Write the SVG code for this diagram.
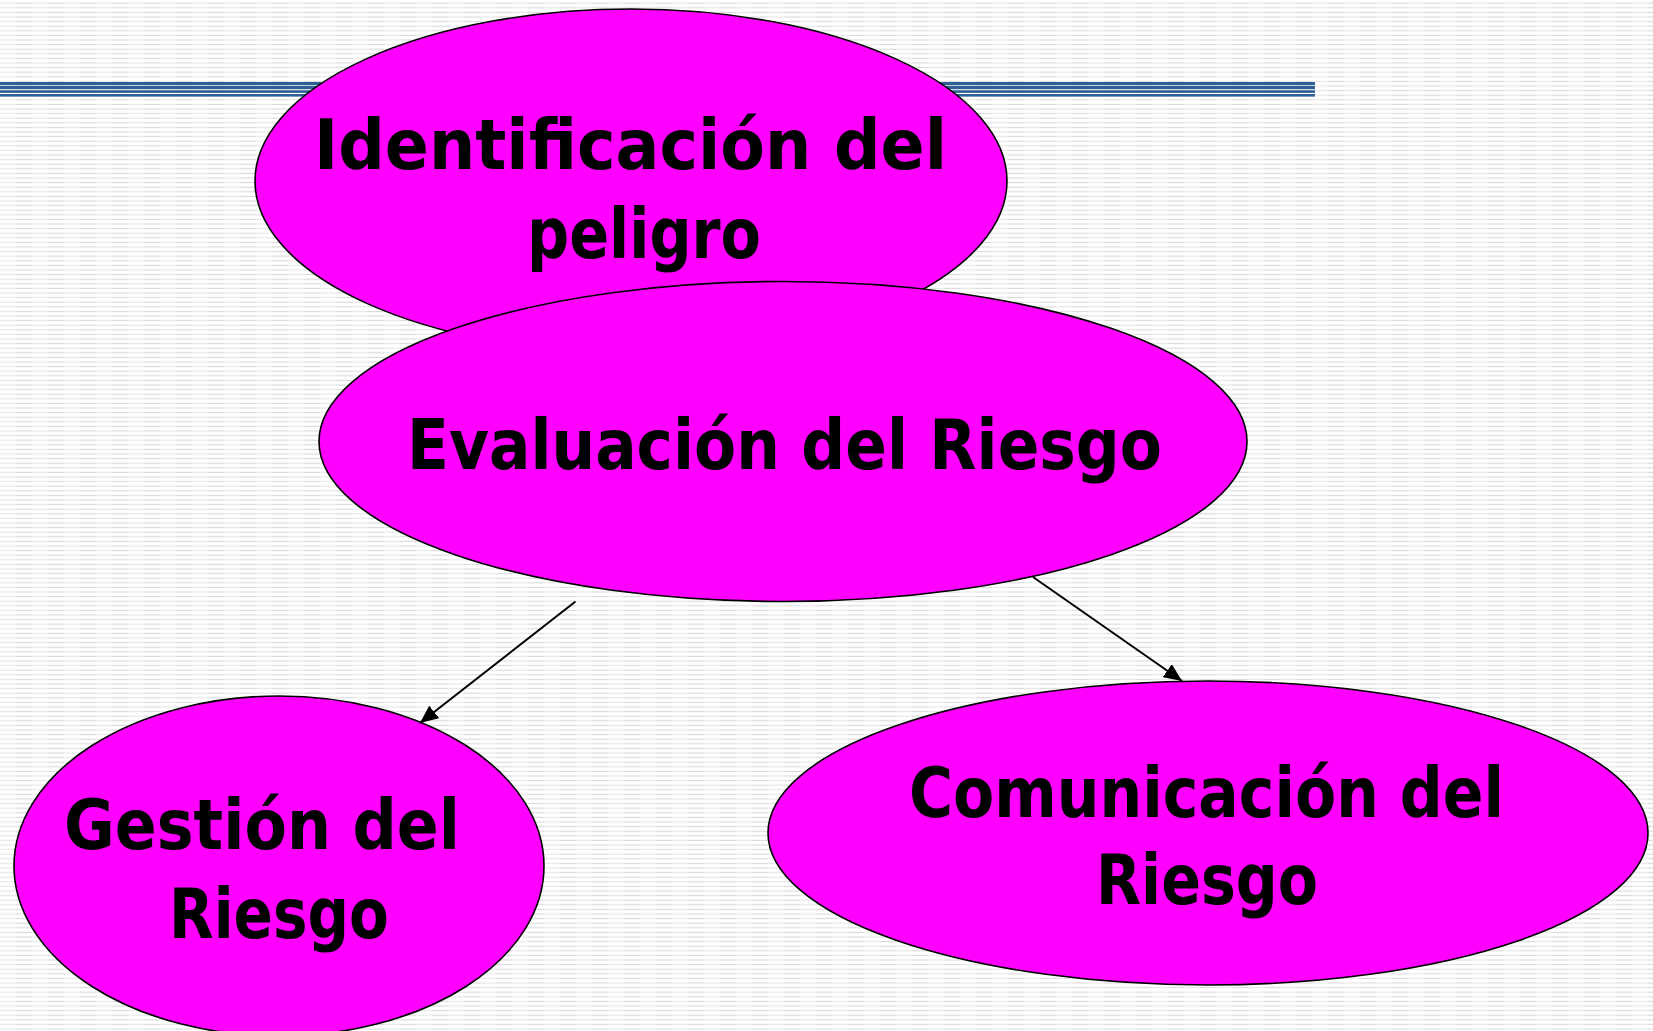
<svg xmlns="http://www.w3.org/2000/svg" width="1653" height="1031" viewBox="0 0 1653 1031">
<style>
.node{fill:#FF00FF;stroke:#000;stroke-width:1.6}
.lbl{font-family:"DejaVu Sans","Liberation Sans",sans-serif;font-weight:bold;font-size:70px;fill:#000;text-anchor:start}
.conn{stroke:#000;stroke-width:2;fill:none;marker-end:url(#ah)}
.bar{fill:#2e5f95}
</style>
<defs>
<pattern id="bg" x="0" y="0" width="32" height="4.6" patternUnits="userSpaceOnUse">
<rect x="0" y="0" width="32" height="4.6" fill="#fff"/>
<rect x="0" y="2.6" width="16" height="1.2" fill="#e8e8e8"/>
<rect x="16" y="2.6" width="16" height="1.2" fill="#dadada"/>
</pattern>
<marker id="ah" viewBox="0 0 18 16" markerWidth="18" markerHeight="16" refX="18" refY="8" orient="auto" markerUnits="userSpaceOnUse">
<path d="M0,0 L18,8 L0,16 z" fill="#000"/>
</marker>
</defs>
<rect x="0" y="0" width="1653" height="1031" fill="url(#bg)"/>
<g id="title-bars">
<rect class="bar" x="0" y="82" width="1315" height="3"/>
<rect class="bar" x="0" y="85.8" width="1315" height="3.4"/>
<rect class="bar" x="0" y="90.3" width="1315" height="2.6"/>
<rect class="bar" x="0" y="94" width="1315" height="2.6"/>
</g>
<g id="node-identificacion">
<ellipse class="node" cx="631" cy="181" rx="376" ry="172"/>
<text class="lbl" x="314" y="169" textLength="633" lengthAdjust="spacingAndGlyphs">Identificación del</text>
<text class="lbl" x="527" y="258" textLength="234" lengthAdjust="spacingAndGlyphs">peligro</text>
</g>
<g id="node-evaluacion">
<ellipse class="node" cx="783" cy="441.5" rx="464" ry="160"/>
<text class="lbl" x="407" y="469" textLength="755" lengthAdjust="spacingAndGlyphs">Evaluación del Riesgo</text>
</g>
<g id="node-gestion">
<ellipse class="node" cx="279" cy="866" rx="265" ry="170"/>
<text class="lbl" x="64" y="849" textLength="396" lengthAdjust="spacingAndGlyphs">Gestión del</text>
<text class="lbl" x="169" y="938" textLength="220" lengthAdjust="spacingAndGlyphs">Riesgo</text>
</g>
<g id="node-comunicacion">
<ellipse class="node" cx="1208" cy="833" rx="440" ry="152"/>
<text class="lbl" x="909" y="817" textLength="595" lengthAdjust="spacingAndGlyphs">Comunicación del</text>
<text class="lbl" x="1096" y="904" textLength="222" lengthAdjust="spacingAndGlyphs">Riesgo</text>
</g>
<g id="connectors">
<line class="conn" x1="575.5" y1="601.5" x2="420" y2="723"/>
<line class="conn" x1="1033" y1="577" x2="1182" y2="681"/>
</g>
</svg>
